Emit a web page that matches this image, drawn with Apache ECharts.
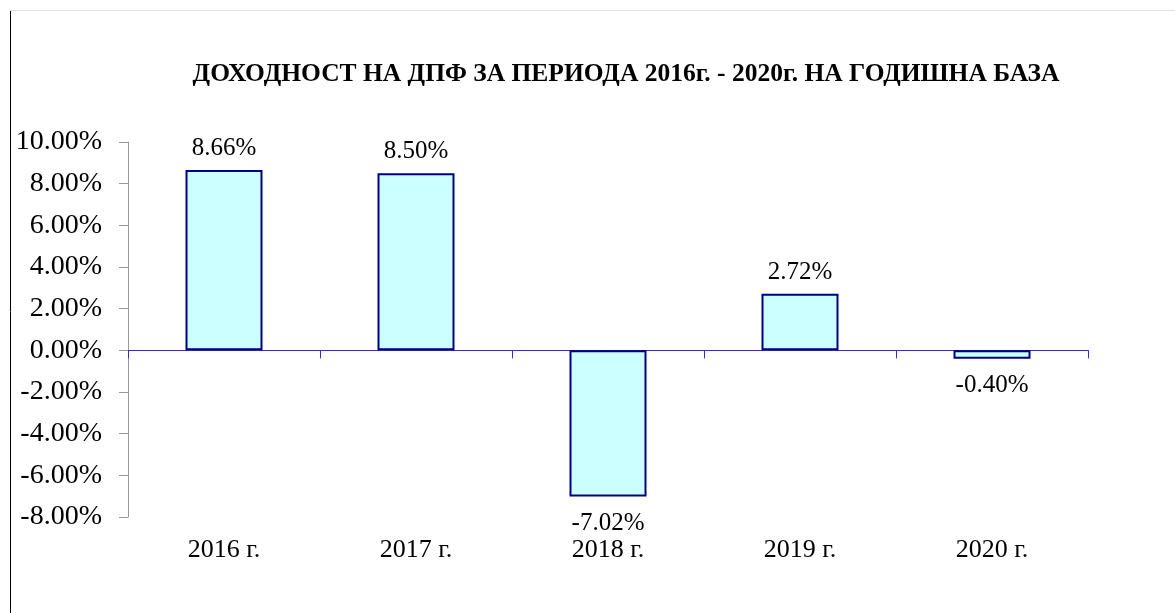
<!DOCTYPE html>
<html>
<head>
<meta charset="utf-8">
<script src="https://cdn.jsdelivr.net/npm/echarts@6/dist/echarts.min.js"></script>
<style>
  html, body { margin: 0; padding: 0; background: #fff; }
  #chart { width: 1175px; height: 613px; }
</style>
</head>
<body>
<div id="chart"></div>
<script>
// категории и стойности (в %)
var years = ['2016 г.', '2017 г.', '2018 г.', '2019 г.', '2020 г.'];
var returns = [8.66, 8.50, -7.02, 2.72, -0.40];
var yTicks = { min: -8, max: 10, step: 2 };

var serif = '"Liberation Serif", "Times New Roman", serif';

var myChart = echarts.init(document.getElementById('chart'));

// отрицателните стойности - етикет отдолу
var barData = returns.map(function (v) {
    return {
        value: v,
        label: { position: v < 0 ? 'bottom' : 'top', distance: v < 0 ? 14 : 9 }
    };
});

var option = {
    animation: false,
    title: {
        text: 'ДОХОДНОСТ НА ДПФ ЗА ПЕРИОДА 2016г. - 2020г. НА ГОДИШНА БАЗА',
        left: 621,
        textAlign: 'center',
        top: 56,
        textStyle: { fontFamily: serif, fontWeight: 'bold', fontSize: 25.5, color: '#000' }
    },
    grid: { left: 128, right: 87, top: 142, bottom: 96 },
    graphic: [
        { type: 'line', shape: { x1: 10.5, y1: 10, x2: 10.5, y2: 613 }, style: { stroke: '#000', lineWidth: 1 } },
        { type: 'line', shape: { x1: 10, y1: 10.5, x2: 1175, y2: 10.5 }, style: { stroke: '#e0e0e0', lineWidth: 1 } }
    ],
    xAxis: [{
        type: 'category',
        data: years,
        axisLine: { onZero: true, lineStyle: { color: '#3333aa', width: 1 } },
        axisTick: { show: true, length: 8, lineStyle: { color: '#3333aa' } },
        axisLabel: { show: false }
    }, {
        type: 'category',
        data: years,
        position: 'bottom',
        axisLine: { show: false, onZero: false },
        axisTick: { show: false },
        axisLabel: { margin: 20, fontFamily: serif, fontSize: 26, color: '#000' }
    }],
    yAxis: {
        type: 'value',
        min: yTicks.min,
        max: yTicks.max,
        interval: yTicks.step,
        splitLine: { show: false },
        axisLine: { show: true, lineStyle: { color: '#999' } },
        axisTick: { show: true, length: 9, lineStyle: { color: '#999' } },
        axisLabel: {
            margin: 26,
            fontFamily: serif, fontSize: 28, color: '#000',
            formatter: function (v) { return v.toFixed(2) + '%'; }
        }
    },
    series: [{
        type: 'bar',
        xAxisIndex: 0,
        data: barData,
        barWidth: 77,
        itemStyle: { color: '#ccffff', borderColor: '#000080', borderWidth: 2 },
        label: {
            show: true,
            fontFamily: serif, fontSize: 25, color: '#000',
            formatter: function (p) { return p.value.toFixed(2) + '%'; }
        }
    }]
};

myChart.setOption(option);
</script>
</body>
</html>
